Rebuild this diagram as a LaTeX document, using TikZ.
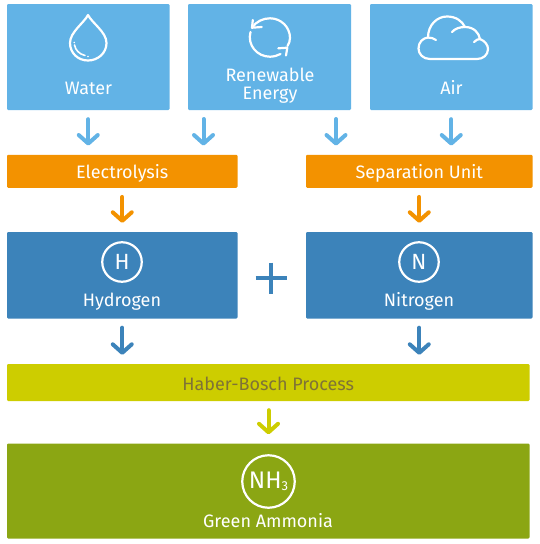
\documentclass[tikz,border=0pt]{standalone}
\usepackage{fontspec}
\setmainfont{Fira Sans}[Numbers=Lining]
\usetikzlibrary{arrows.meta}
\definecolor{lblue}{HTML}{62B3E6}
\definecolor{orng}{HTML}{F39200}
\definecolor{dblue}{HTML}{3C83BA}
\definecolor{yel}{HTML}{CDCD00}
\definecolor{grn}{HTML}{8BA613}
\definecolor{brn}{HTML}{7F7336}
\tikzset{
  box/.style={rectangle,rounded corners=1.2pt,inner sep=0pt,text=white,font=\fontsize{18}{20}\selectfont,text height=15pt,text depth=0pt},
  lab/.style={anchor=base,inner sep=0pt,text=white,font=\fontsize{18}{20}\selectfont},
  flow/.style={line width=4pt,line cap=round,-{Straight Barb[length=8.5pt,width=19pt,line width=4pt,round]},shorten <=9pt,shorten >=9pt},
  atom/.style={circle,draw=white,line width=2.2pt,inner sep=0pt,text=white},
  icon/.style={draw=white,line width=2.2pt,line cap=round,line join=round},
  iconthin/.style={draw=white,line width=1.6pt,line cap=round,line join=round},
}
\begin{document}
\begin{tikzpicture}[x=1pt,y=-1pt]
\useasboundingbox (0,0) rectangle (539,544);
% top row
\node[box,fill=lblue,minimum width=162.5pt,minimum height=106pt] (water) at (88.25,57) {};
\node[box,fill=lblue,minimum width=163pt,minimum height=106pt] (renew) at (269.5,57) {};
\node[box,fill=lblue,minimum width=162.5pt,minimum height=106pt] (air) at (451.25,57) {};
\node[lab] (lwater) at (88.5,94) {Water};
\node[lab] (lrenew) at (270,81) {Renewable};
\node[lab] (lenergy) at (270,99) {Energy};
\node[lab] (lair) at (451.5,94) {Air};
% process row
\node[box,fill=orng,minimum width=230.5pt,minimum height=33pt] (elec) at (122.25,171.25) {Electrolysis};
\node[box,fill=orng,minimum width=226.5pt,minimum height=33pt] (sep) at (419.25,171.25) {Separation Unit};
% gases
\node[box,fill=dblue,minimum width=230.5pt,minimum height=86.5pt] (hyd) at (122.25,275.25) {};
\node[box,fill=dblue,minimum width=226.5pt,minimum height=86.5pt] (nit) at (419.25,275.25) {};
\node[atom,minimum size=39.5pt,font=\fontsize{22}{24}\selectfont] (hc) at (122,262) {H};
\node[atom,minimum size=39.5pt,font=\fontsize{22}{24}\selectfont] (nc) at (419,262) {N};
\node[lab] (lhyd) at (122,306) {Hydrogen};
\node[lab] (lnit) at (419,306) {Nitrogen};
% plus
\draw[dblue,line width=4.2pt] (255.5,278) -- (286.5,278) (271,262.5) -- (271,293.5);
% haber
\node[box,fill=yel,minimum width=522.5pt,minimum height=37pt,text=brn] (haber) at (268.25,382.5) {Haber-Bosch Process};
\node[box,fill=grn,minimum width=522.5pt,minimum height=95pt] (amm) at (268.25,491) {};
\node[atom,minimum size=52.5pt,font=\fontsize{24}{26}\selectfont] (nh) at (268.5,481.5) {NH\raisebox{-2pt}{\fontsize{13}{14}\selectfont 3}};
\node[lab] (lamm) at (268,527) {Green Ammonia};
% arrows
\coordinate (r1) at (203.5,110);
\coordinate (r2) at (336,110);
\draw[flow,lblue] (water.south) -- (water.south |- elec.north);
\draw[flow,lblue] (r1) -- (r1 |- elec.north);
\draw[flow,lblue] (r2) -- (r2 |- sep.north);
\draw[flow,lblue] (air.south) -- (air.south |- sep.north);
\draw[flow,orng] (elec.south) -- (hyd.north);
\draw[flow,orng] (sep.south) -- (nit.north);
\draw[flow,dblue] (hyd.south) -- (hyd.south |- haber.north);
\draw[flow,dblue] (nit.south) -- (nit.south |- haber.north);
\draw[flow,yel] (haber.south -| nh.north) -- (amm.north -| nh.north);
% drop icon
\draw[icon] (88,15) .. controls (84,23) and (70,32) .. (70,43) .. controls (70,53) and (78,60.5) .. (88,60.5) .. controls (98,60.5) and (106.5,53) .. (106.5,43) .. controls (106.5,32) and (92,23) .. (88,15) -- cycle;
\draw[iconthin] (74.5,45) .. controls (75.5,50) and (79,54) .. (85,55.5);
\fill[white] (74.3,42.5) circle (0.9) (88,56.5) circle (0.9);
% recycling icon
\draw[icon] (252,27.7) .. controls (256,21.5) and (263,18.3) .. (270,18.3) .. controls (281,18.3) and (290,27) .. (290,38) .. controls (290,41) and (289,43.5) .. (287.5,46);
\draw[icon] (252,27.7) -- (261.7,27) (252,27.7) -- (252.8,20);
\draw[icon] (250.5,32) .. controls (247,45) and (257,56.7) .. (270,56.7) .. controls (274,56.7) and (277.5,55.5) .. (280.5,54);
\draw[icon] (287.3,47.7) -- (278.3,48.3) (287.3,47.7) -- (286,55.5);
% cloud icon
\draw[icon] (430,59) .. controls (423,59) and (418.5,54) .. (418.5,48.5) .. controls (418.5,42) and (423,38) .. (428,37.5) .. controls (428,25) and (437,16.5) .. (447,16.5) .. controls (456,16.5) and (462,21) .. (465,27) .. controls (474,27) and (479,33) .. (480,39) .. controls (485,41) and (488,45) .. (488,49) .. controls (488,55) and (483,59) .. (477,59) -- cycle;
\draw[icon] (428,37.5) .. controls (431,37.5) and (434,38.5) .. (436,40);
\draw[icon] (452,32) .. controls (455,28.5) and (460,27) .. (465,27);
\draw[icon] (480,39) .. controls (478,39) and (476,40) .. (474,42);
\end{tikzpicture}
\end{document}
